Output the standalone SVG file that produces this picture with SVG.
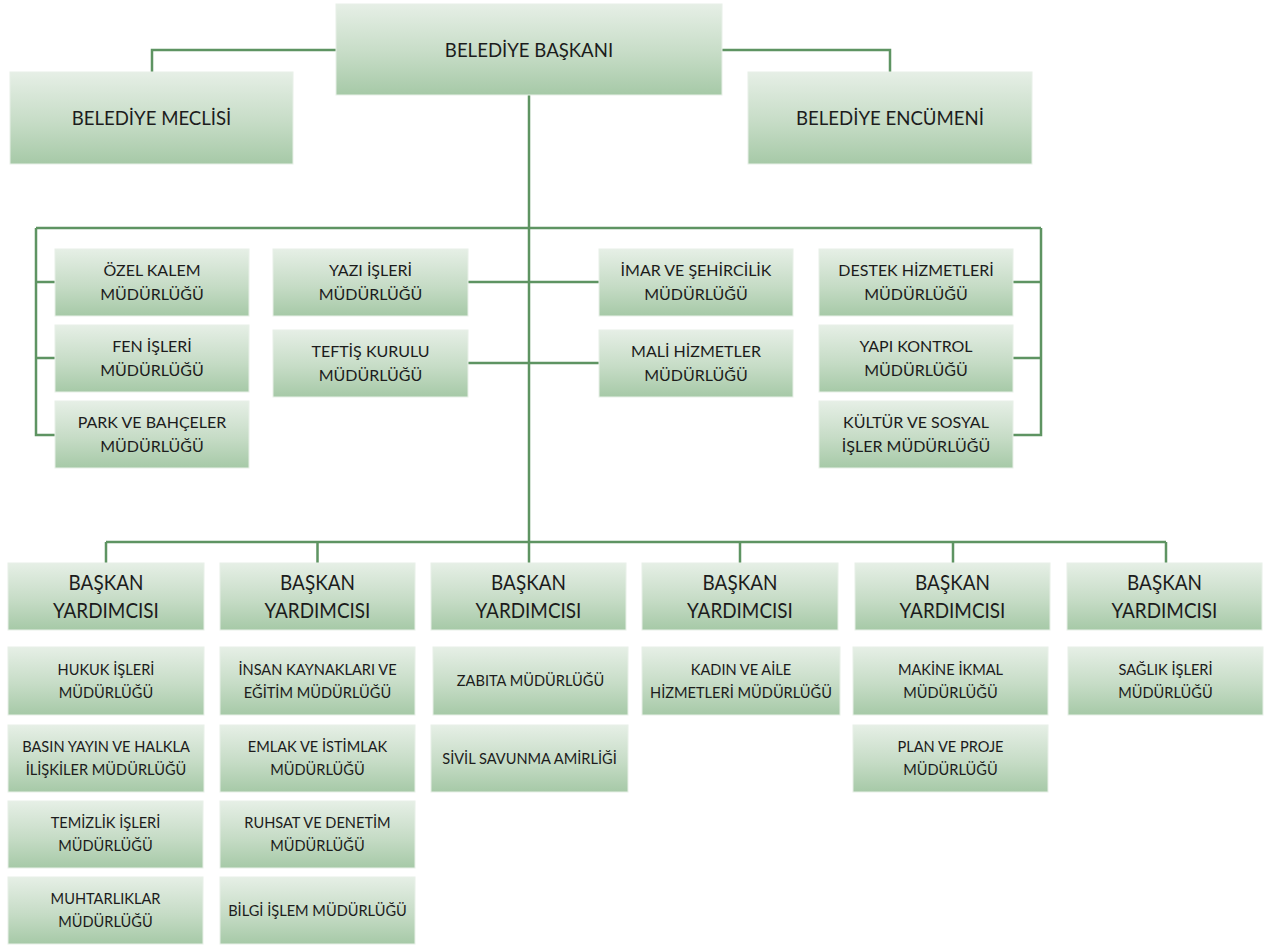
<svg xmlns="http://www.w3.org/2000/svg" width="1266" height="947" viewBox="0 0 1266 947">
<defs>
<linearGradient id="g" x1="0" y1="0" x2="0" y2="1">
<stop offset="0" stop-color="#e6efe6"/>
<stop offset="0.55" stop-color="#c6dcc6"/>
<stop offset="1" stop-color="#a6c9a7"/>
</linearGradient>
</defs>
<style>
rect{fill:url(#g);stroke:#e8f0e8;stroke-width:1}
text{font-family:Lato,"Noto Sans","Liberation Sans",sans-serif;fill:#1c1c1c;text-anchor:middle}
.t{font-size:20px}
.m{font-size:16px}
.b{font-size:21px}
.s{font-size:14.6px}
#connectors path{fill:none;stroke:#5e9462;stroke-width:2.5}
</style>
<rect x="0" y="0" width="1266" height="947" style="fill:#fff;stroke:none"/>
<g id="connectors">
<path d="M152,72 V50 H336"/>
<path d="M722,50 H890 V72"/>
<path d="M529,95 V563"/>
<path d="M36,228 H1041"/>
<path d="M36,228 V435 H55 M36,282 H55 M36,358 H55"/>
<path d="M1041,228 V435 H1013 M1041,282 H1013 M1041,358 H1013"/>
<path d="M468,282 H599 M468,363 H599"/>
<path d="M106,542 H1166"/>
<path d="M106,542 V563 M317.5,542 V563 M740,542 V563 M953,542 V563 M1166,542 V563"/>
</g>
<g id="baskan"><rect x="336" y="4" width="386" height="91"/><text class="t" x="529" y="56.7" transform="matrix(0.93 0 0 1 37.03 0)">BELEDİYE BAŞKANI</text></g>
<g id="meclis"><rect x="10" y="72" width="283" height="92"/><text class="t" x="151.5" y="125" transform="matrix(0.93 0 0 1 10.6 0)">BELEDİYE MECLİSİ</text></g>
<g id="encumen"><rect x="748" y="72" width="284" height="92"/><text class="t" x="890" y="125" transform="matrix(0.93 0 0 1 62.3 0)">BELEDİYE ENCÜMENİ</text></g>

<g id="ozel"><rect x="55" y="249" width="194" height="67"/><text class="m"><tspan x="152" y="276.2">ÖZEL KALEM</tspan><tspan x="152" y="300.2">MÜDÜRLÜĞÜ</tspan></text></g>
<g id="fen"><rect x="55" y="325" width="194" height="67"/><text class="m"><tspan x="152" y="352.2">FEN İŞLERİ</tspan><tspan x="152" y="376.2">MÜDÜRLÜĞÜ</tspan></text></g>
<g id="park"><rect x="55" y="401" width="194" height="67"/><text class="m"><tspan x="152" y="428.2">PARK VE BAHÇELER</tspan><tspan x="152" y="452.2">MÜDÜRLÜĞÜ</tspan></text></g>
<g id="yazi"><rect x="273" y="249" width="195" height="67"/><text class="m"><tspan x="370.5" y="276.2">YAZI İŞLERİ</tspan><tspan x="370.5" y="300.2">MÜDÜRLÜĞÜ</tspan></text></g>
<g id="teftis"><rect x="273" y="330" width="195" height="67"/><text class="m"><tspan x="370.5" y="357.2">TEFTİŞ KURULU</tspan><tspan x="370.5" y="381.2">MÜDÜRLÜĞÜ</tspan></text></g>
<g id="imar"><rect x="599" y="249" width="194" height="67"/><text class="m"><tspan x="696" y="276.2">İMAR VE ŞEHİRCİLİK</tspan><tspan x="696" y="300.2">MÜDÜRLÜĞÜ</tspan></text></g>
<g id="mali"><rect x="599" y="330" width="194" height="67"/><text class="m"><tspan x="696" y="357.2">MALİ HİZMETLER</tspan><tspan x="696" y="381.2">MÜDÜRLÜĞÜ</tspan></text></g>
<g id="destek"><rect x="819" y="249" width="194" height="67"/><text class="m"><tspan x="916" y="276.2">DESTEK HİZMETLERİ</tspan><tspan x="916" y="300.2">MÜDÜRLÜĞÜ</tspan></text></g>
<g id="yapi"><rect x="819" y="325" width="194" height="67"/><text class="m"><tspan x="916" y="352.2">YAPI KONTROL</tspan><tspan x="916" y="376.2">MÜDÜRLÜĞÜ</tspan></text></g>
<g id="kultur"><rect x="819" y="401" width="194" height="67"/><text class="m"><tspan x="916" y="428.2">KÜLTÜR VE SOSYAL</tspan><tspan x="916" y="452.2">İŞLER MÜDÜRLÜĞÜ</tspan></text></g>

<g id="by1"><rect x="8" y="563" width="196" height="67"/><text class="b" transform="matrix(0.9 0 0 1 10.6 0)"><tspan x="106" y="590">BAŞKAN</tspan><tspan x="106" y="618">YARDIMCISI</tspan></text></g>
<g id="by2"><rect x="220" y="563" width="195" height="67"/><text class="b" transform="matrix(0.9 0 0 1 31.75 0)"><tspan x="317.5" y="590">BAŞKAN</tspan><tspan x="317.5" y="618">YARDIMCISI</tspan></text></g>
<g id="by3"><rect x="431" y="563" width="195" height="67"/><text class="b" transform="matrix(0.9 0 0 1 52.85 0)"><tspan x="528.5" y="590">BAŞKAN</tspan><tspan x="528.5" y="618">YARDIMCISI</tspan></text></g>
<g id="by4"><rect x="642" y="563" width="196" height="67"/><text class="b" transform="matrix(0.9 0 0 1 74 0)"><tspan x="740" y="590">BAŞKAN</tspan><tspan x="740" y="618">YARDIMCISI</tspan></text></g>
<g id="by5"><rect x="855" y="563" width="195" height="67"/><text class="b" transform="matrix(0.9 0 0 1 95.25 0)"><tspan x="952.5" y="590">BAŞKAN</tspan><tspan x="952.5" y="618">YARDIMCISI</tspan></text></g>
<g id="by6"><rect x="1067" y="563" width="195" height="67"/><text class="b" transform="matrix(0.9 0 0 1 116.45 0)"><tspan x="1164.5" y="590">BAŞKAN</tspan><tspan x="1164.5" y="618">YARDIMCISI</tspan></text></g>

<g id="hukuk"><rect x="8" y="647" width="196" height="68"/><text class="s"><tspan x="106" y="674.9">HUKUK İŞLERİ</tspan><tspan x="106" y="697.9">MÜDÜRLÜĞÜ</tspan></text></g>
<g id="basin"><rect x="8" y="725" width="196" height="67"/><text class="s"><tspan x="106" y="752.4">BASIN YAYIN VE HALKLA</tspan><tspan x="106" y="775.4">İLİŞKİLER MÜDÜRLÜĞÜ</tspan></text></g>
<g id="temizlik"><rect x="8" y="801" width="195" height="67"/><text class="s"><tspan x="105.5" y="828.4">TEMİZLİK İŞLERİ</tspan><tspan x="105.5" y="851.4">MÜDÜRLÜĞÜ</tspan></text></g>
<g id="muhtarlik"><rect x="8" y="877" width="195" height="67"/><text class="s"><tspan x="105.5" y="904.4">MUHTARLIKLAR</tspan><tspan x="105.5" y="927.4">MÜDÜRLÜĞÜ</tspan></text></g>

<g id="insan"><rect x="220" y="647" width="195" height="68"/><text class="s"><tspan x="317.5" y="674.9">İNSAN KAYNAKLARI VE</tspan><tspan x="317.5" y="697.9">EĞİTİM MÜDÜRLÜĞÜ</tspan></text></g>
<g id="emlak"><rect x="220" y="725" width="195" height="67"/><text class="s"><tspan x="317.5" y="752.4">EMLAK VE İSTİMLAK</tspan><tspan x="317.5" y="775.4">MÜDÜRLÜĞÜ</tspan></text></g>
<g id="ruhsat"><rect x="220" y="801" width="195" height="67"/><text class="s"><tspan x="317.5" y="828.4">RUHSAT VE DENETİM</tspan><tspan x="317.5" y="851.4">MÜDÜRLÜĞÜ</tspan></text></g>
<g id="bilgi"><rect x="220" y="877" width="195" height="67"/><text class="s" x="317.5" y="915.9">BİLGİ İŞLEM MÜDÜRLÜĞÜ</text></g>

<g id="zabita"><rect x="433" y="647" width="195" height="68"/><text class="s" x="530.5" y="686.4">ZABITA MÜDÜRLÜĞÜ</text></g>
<g id="sivil"><rect x="431" y="725" width="197" height="67"/><text class="s" x="529.5" y="763.9">SİVİL SAVUNMA AMİRLİĞİ</text></g>

<g id="kadin"><rect x="642" y="647" width="198" height="68"/><text class="s"><tspan x="741" y="674.9">KADIN VE AİLE</tspan><tspan x="741" y="697.9">HİZMETLERİ MÜDÜRLÜĞÜ</tspan></text></g>

<g id="makine"><rect x="853" y="647" width="195" height="68"/><text class="s"><tspan x="950.5" y="674.9">MAKİNE İKMAL</tspan><tspan x="950.5" y="697.9">MÜDÜRLÜĞÜ</tspan></text></g>
<g id="plan"><rect x="853" y="725" width="195" height="67"/><text class="s"><tspan x="950.5" y="752.4">PLAN VE PROJE</tspan><tspan x="950.5" y="775.4">MÜDÜRLÜĞÜ</tspan></text></g>

<g id="saglik"><rect x="1068" y="647" width="195" height="68"/><text class="s"><tspan x="1165.5" y="674.9">SAĞLIK İŞLERİ</tspan><tspan x="1165.5" y="697.9">MÜDÜRLÜĞÜ</tspan></text></g>
</svg>
